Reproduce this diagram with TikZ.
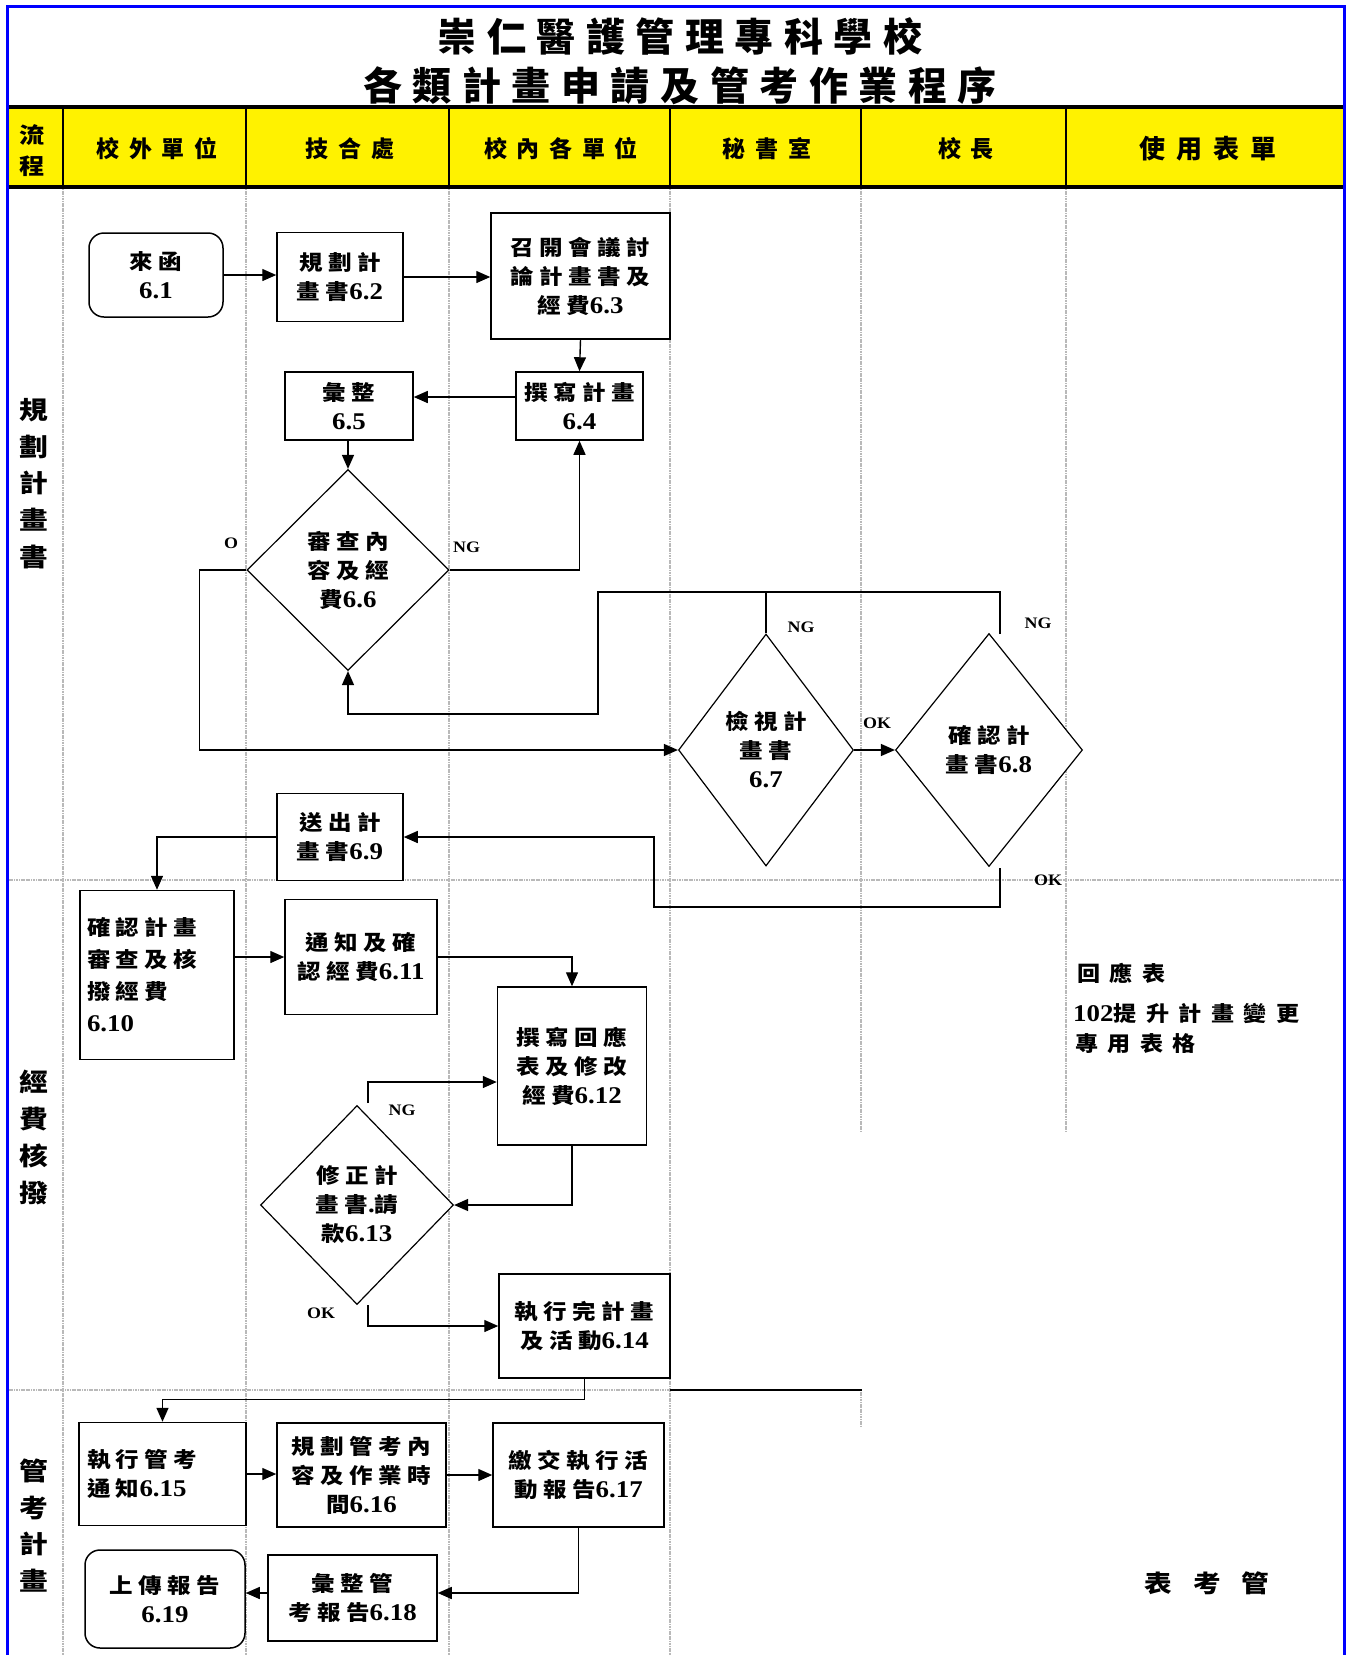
\documentclass[tikz,border=0pt]{standalone}
\usepackage{fontspec}
\setmainfont{Liberation Serif}[FakeStretch=1.12]
\newfontfamily\cjk{Noto Sans CJK TC}[FakeStretch=1.12,LetterSpace=26]
\newfontfamily\cjkv{Noto Sans CJK TC}[FakeStretch=1.15]
\newfontfamily\cjkhead{Noto Sans CJK TC}[LetterSpace=42]
\newfontfamily\cjktitle{Noto Sans CJK TC}[LetterSpace=27]
\newfontfamily\cjkform{Noto Sans CJK TC}[FakeStretch=1.1,LetterSpace=45]
\usetikzlibrary{arrows.meta,shapes.geometric}
\newcommand\zh[1]{{\fontsize{21}{29}\selectfont\cjk\bfseries #1}}
\tikzset{
  box/.style={draw, line width=1.5pt, fill=white, align=center, inner sep=2pt,
     font=\fontsize{24}{29}\selectfont\bfseries},
  sz/.style 2 args={minimum width=#1pt, minimum height=#2pt},
  rbox/.style={box, rounded corners=15pt},
  dec/.style={box, diamond, line width=1.2pt, inner sep=0pt},
  conn/.style={line width=1.4pt},
  arr/.style={conn, -{Triangle[length=14pt,width=12pt]}},
  lbl/.style={inner sep=0pt, font=\fontsize{16}{18}\selectfont\bfseries},
  lane/.style={draw=gray!55, line width=2pt, dash pattern=on 1.2pt off 0.5pt},
  hdr/.style={inner sep=0pt, font=\fontsize{23}{26}\selectfont\cjkhead\bfseries},
  rowlbl/.style={align=center, inner sep=0pt, font=\fontsize{25}{36.7}\selectfont\cjkv\bfseries},
  form/.style={anchor=west, inner sep=0pt, font=\fontsize{21}{25}\selectfont\cjkform\bfseries},
}
\begin{document}
\begin{tikzpicture}[x=1pt,y=-1pt]
\useasboundingbox (0,0) rectangle (1349,1655);
% header band
\fill[yellow] (7,107) rectangle (1344,187);
% swimlane lines
\foreach \x in {63,246,449,670} \draw[lane] (\x,189) -- (\x,1660);
\foreach \x in {861,1066} \draw[lane] (\x,189) -- (\x,1131);
\draw[lane] (861,1390) -- (861,1427);
\draw[lane] (7,880) -- (1344,880);
\draw[lane] (7,1390) -- (670,1390);
\draw[line width=1.8pt] (670,1390) -- (862,1390);
% header lines
\draw[line width=3.5pt] (7,107) -- (1344,107);
\draw[line width=3.5pt] (7,187) -- (1344,187);
\foreach \x in {63,246,449,670,861,1066} \draw[line width=1.5pt] (\x,107) -- (\x,187);
% title
\node (title) at (680,61.5) [align=center, font=\fontsize{39}{49}\selectfont\cjktitle\bfseries] {崇仁醫護管理專科學校\\各類計畫申請及管考作業程序};
% header labels
\node (h0) at (32,150.5) [align=center, inner sep=0pt, font=\fontsize{22}{31}\selectfont\cjkv\bfseries] {流\\程};
\node[hdr] (h1) at (157,149) {校外單位};
\node[hdr] (h2) at (350,149) {技合處};
\node[hdr] (h3) at (561,149) {校內各單位};
\node[hdr] (h4) at (767,149) {秘書室};
\node[hdr] (h5) at (966,149) {校長};
\node[hdr, font=\fontsize{26}{30}\selectfont\cjkhead\bfseries] (h6) at (1208,149) {使用表單};
% row labels
\node[rowlbl] (r1) at (34,483.5) {規\\劃\\計\\畫\\書};
\node[rowlbl] (r2) at (34,1137.5) {經\\費\\核\\撥};
\node[rowlbl] (r3) at (34,1525.5) {管\\考\\計\\畫};
% nodes
\node[rbox, sz={134}{84}] (p61) at (156,275) {\zh{來函}\\6.1};
\node[box, sz={126}{89}] (p62) at (340,277) {\zh{規劃計}\\\zh{畫書}6.2};
\node[box, sz={179}{126}] (p63) at (580.5,276) {\zh{召開會議討}\\\zh{論計畫書及}\\\zh{經費}6.3};
\node[box, sz={127}{68}] (p64) at (579.5,406) {\zh{撰寫計畫}\\6.4};
\node[box, sz={128}{68}] (p65) at (349,406) {\zh{彙整}\\6.5};
\node[dec, sz={202}{201}] (d66) at (348,570) {\zh{審查內}\\\zh{容及經}\\\zh{費}6.6};
\node[dec, sz={175}{232}] (d67) at (766,750) {\zh{檢視計}\\\zh{畫書}\\6.7};
\node[dec, sz={187}{233}] (d68) at (989,750) {\zh{確認計}\\\zh{畫書}6.8};
\node[box, sz={126}{87}] (p69) at (340,837) {\zh{送出計}\\\zh{畫書}6.9};
\node[box, sz={154}{169}, align=left, text width=140pt, inner xsep=7pt, font=\fontsize{24}{32}\selectfont\bfseries] (p610) at (157,975) {\zh{確認計畫}\\\zh{審查及核}\\\zh{撥經費}\\6.10};
\node[box, sz={152}{115}] (p611) at (361,957) {\zh{通知及確}\\\zh{認經費}6.11};
\node[box, sz={149}{158}] (p612) at (572,1066) {\zh{撰寫回應}\\\zh{表及修改}\\\zh{經費}6.12};
\node[dec, sz={193}{199}] (d613) at (357,1205) {\zh{修正計}\\\zh{畫書}.\zh{請}\\\zh{款}6.13};
\node[box, sz={171}{104}] (p614) at (584.5,1326) {\zh{執行完計畫}\\\zh{及活動}6.14};
\node[box, sz={167}{103}, align=left, text width=151pt, inner xsep=8pt] (p615) at (162.5,1474) {\zh{執行管考}\\\zh{通知}6.15};
\node[box, sz={169}{104}] (p616) at (361.5,1475) {\zh{規劃管考內}\\\zh{容及作業時}\\\zh{間}6.16};
\node[box, sz={171}{104}] (p617) at (578.5,1475) {\zh{繳交執行活}\\\zh{動報告}6.17};
\node[box, sz={169}{86}] (p618) at (352.5,1598) {\zh{彙整管}\\\zh{考報告}6.18};
\node[rbox, sz={160}{98}] (p619) at (165,1599) {\zh{上傳報告}\\6.19};
% connectors
\draw[arr] (p61.east) -- (p61.east -| p62.west);
\draw[arr] (p62.east) -- (p62.east -| p63.west);
\draw[arr] (p63.south) -- (p64.north);
\draw[arr] (p64.west |- 0,397) -- (p65.east |- 0,397);
\draw[arr] (d66.north |- p65.south) -- (d66.north);
\draw[arr] (d66.east) -| (p64.south);
\draw[arr] (d66.west) -- ++(-47,0) |- (d67.west);
\coordinate (ng68) at (1000,634);
\draw[conn] (d67.north) -- (d67.north |- 0,592);
\draw[arr] (ng68) -- (1000,592) -- (598,592) -- (598,714) -| (d66.south);
\draw[arr] (d67.east) -- (d68.west);
\coordinate (ok68) at (1000,868);
\draw[arr] (ok68) -- (1000,907) -- (654,907) |- (p69.east);
\draw[arr] (p69.west) -| (p610.north);
\draw[arr] (p611.west -| p610.east) -- (p611.west);
\draw[arr] (p611.east) -| (p612.north);
\draw[arr] (p612.south) |- (d613.east);
\coordinate (ng613) at (368,1103);
\draw[arr] (ng613) -- (368,1082) -- (p612.west |- 0,1082);
\coordinate (ok613) at (368,1305);
\draw[arr] (ok613) |- (p614.west);
\draw[arr] (p614.south) -- ++(0,21) -| (p615.north);
\draw[arr] (p615.east) -- (p615.east -| p616.west);
\draw[arr] (p616.east) -- (p616.east -| p617.west);
\draw[arr] (p617.south) -- (p617.south |- 0,1593) -- (p618.east |- 0,1593);
\draw[arr] (p618.west |- 0,1593) -- (p619.east |- 0,1593);
% labels
\node[lbl] (lO) at (231,543.5) {O};
\node[lbl] (lng66) at (466.5,547.5) {NG};
\node[lbl] (lng67) at (801,627) {NG};
\node[lbl] (lng68) at (1038,623) {NG};
\node[lbl] (lok67) at (877,723) {OK};
\node[lbl] (lok68) at (1048,880) {OK};
\node[lbl] (lng613) at (402,1110) {NG};
\node[lbl] (lok613) at (321,1313) {OK};
% forms column
\node[form] (f1) at (1077,973) {回應表};
\node[form] (f2) at (1073,1013) {{\fontsize{24}{25}\selectfont\rmfamily 102}提升計畫變更};
\node[form] (f3) at (1075,1044) {專用表格};
\node[inner sep=0pt, font=\fontsize{24}{26}\selectfont\cjkv\bfseries] (f4) at (1207,1583) {表\hspace{21pt}考\hspace{21pt}管};
% outer frame
\draw[blue, line width=3pt] (7,1662) -- (7,6) -- (1344,6) -- (1344,1662);
\end{tikzpicture}
\end{document}
